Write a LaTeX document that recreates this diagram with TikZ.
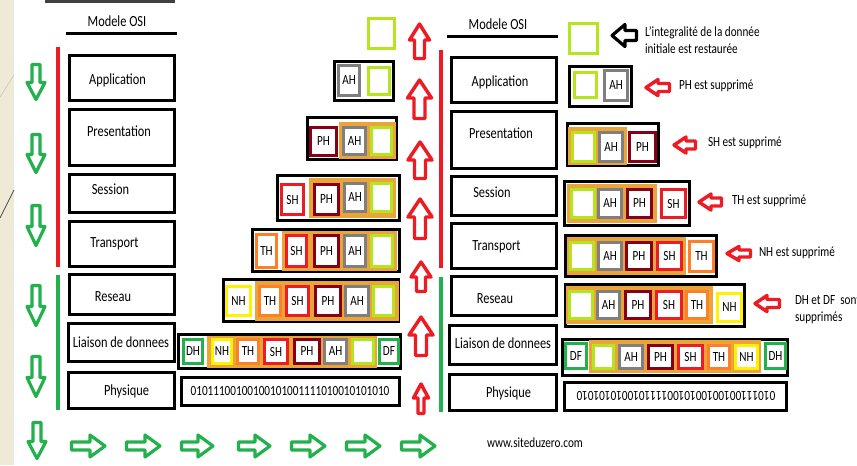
\documentclass[tikz,border=0pt]{standalone}
\usepackage{fontspec}
\setmainfont{Carlito}[FakeStretch=0.8]
\definecolor{cgreen}{HTML}{22B14C}
\definecolor{cred}{HTML}{ED1C24}
\definecolor{clime}{HTML}{B5E61D}
\definecolor{cdred}{HTML}{880015}
\definecolor{cgray}{HTML}{7F7F7F}
\definecolor{corange}{HTML}{FF7F27}
\definecolor{cyellow}{HTML}{FFF200}
\definecolor{cgold}{HTML}{E9A53A}
\definecolor{cbeige}{HTML}{EEEAD6}
\newcommand{\lblfont}{\fontsize{10.5}{12.75}\selectfont}
\newcommand{\layfont}{\fontsize{11.6}{13}\selectfont}
% box: name, x1, y1, x2, y2, style, text
\newcommand{\bx}[7]{\node[#6, minimum width={(#4-#2-3)*0.75pt}, minimum height={(#5-#3-3)*0.75pt}] (#1) at ({(#2+#4)/2},{(#3+#5)/2}) {#7};}
% down arrow: style, cx, ytop, ybot, s, h, L
\newcommand{\arrD}[7]{\draw[#1] ({#2-#5},#3) -- ({#2+#5},#3) -- ({#2+#5},{#4-#7}) -- ({#2+#6},{#4-#7}) -- (#2,#4) -- ({#2-#6},{#4-#7}) -- ({#2-#5},{#4-#7}) -- cycle;}
% up arrow: style, cx, ytop, ybot, s, h, L
\newcommand{\arrU}[7]{\draw[#1] (#2,#3) -- ({#2+#6},{#3+#7}) -- ({#2+#5},{#3+#7}) -- ({#2+#5},#4) -- ({#2-#5},#4) -- ({#2-#5},{#3+#7}) -- ({#2-#6},{#3+#7}) -- cycle;}
% left arrow: style, xtip, xright, cy, s, h, L
\newcommand{\arrL}[7]{\draw[#1] (#2,#4) -- ({#2+#7},{#4-#6}) -- ({#2+#7},{#4-#5}) -- (#3,{#4-#5}) -- (#3,{#4+#5}) -- ({#2+#7},{#4+#5}) -- ({#2+#7},{#4+#6}) -- cycle;}
% right arrow: style, xleft, xtip, cy, s, h, L
\newcommand{\arrR}[7]{\draw[#1] (#3,#4) -- ({#3-#7},{#4-#6}) -- ({#3-#7},{#4-#5}) -- (#2,{#4-#5}) -- (#2,{#4+#5}) -- ({#3-#7},{#4+#5}) -- ({#3-#7},{#4+#6}) -- cycle;}
\tikzset{
  every node/.style={inner sep=0pt, outer sep=0pt},
  frame/.style={draw=black, line width=2.25pt, fill=white},
  layer/.style={draw=black, line width=2.25pt, fill=white},
  hb/.style={draw=#1, line width=2.25pt, fill=white, font=\lblfont},
  wrap/.style={draw=cgold, line width=2.25pt, fill=cgold},
  laytext/.style={font=\layfont},
  note/.style={font=\lblfont, anchor=west, align=left},
  garrow/.style={draw=cgreen, line width=2.4pt, line join=round},
  rarrow/.style={draw=cred, line width=2.6pt, line join=round},
  karrow/.style={draw=black, line width=2.4pt, line join=round},
}
\begin{document}
\begin{tikzpicture}[x=0.75pt, y=-0.75pt]
\clip (0,0) rectangle (857,465);
\fill[white] (0,0) rectangle (857,465);
% left decorative strip
\fill[cbeige] (0,0) rectangle (14,465);
\draw[cbeige!70!gray, line width=0.5pt] (0,97) -- (14,75);
\draw[black!70, line width=0.6pt] (0,218) -- (14,190);
\fill[black!75] (45,0) rectangle (175,3);

% ===== headings =====
\node[laytext] (hL) at (117,21) {Modele OSI};
\coordinate (uL1) at (66,33.5); \coordinate (uL2) at (177,33.5);
\draw[line width=2.25pt] (uL1) -- (uL2);
\node[laytext] (hR) at (498,24) {Modele OSI};
\coordinate (uR1) at (447,36); \coordinate (uR2) at (558,36);
\draw[line width=2.25pt] (uR1) -- (uR2);

% ===== vertical layer lines =====
\coordinate (lr1) at (58,47); \coordinate (lr2) at (58,267);
\coordinate (lg1) at (58,275); \coordinate (lg2) at (58,410);
\draw[cred, line width=2.6pt] (lr1) -- (lr2);
\draw[cgreen, line width=2.6pt] (lg1) -- (lg2);
\coordinate (rr1) at (441,50); \coordinate (rr2) at (441,268);
\coordinate (rg1) at (441,277); \coordinate (rg2) at (441,412);
\draw[cred, line width=2.6pt] (rr1) -- (rr2);
\draw[cgreen, line width=2.6pt] (rg1) -- (rg2);

% ===== left OSI layers =====
\bx{L1}{68}{54}{176}{102}{layer}{}
\bx{L2}{68}{108}{176}{167}{layer}{}
\bx{L3}{68}{173}{176}{214}{layer}{}
\bx{L4}{68}{220}{176}{268}{layer}{}
\bx{L5}{68}{273}{176}{316}{layer}{}
\bx{L6}{67}{322}{176}{363}{layer}{}
\bx{L7}{67}{371}{176}{410}{layer}{}
\node[laytext] (t1) at (117.5,80) {Application};
\node[laytext] (t2) at (119,131) {Presentation};
\node[laytext] (t3) at (110.5,189) {Session};
\node[laytext] (t4) at (114.5,244) {Transport};
\node[laytext] (t5) at (113,297) {Reseau};
\node[laytext] (t6) at (121,342) {Liaison de donnees};
\node[laytext] (t7) at (126.5,391) {Physique};

% ===== right OSI layers =====
\bx{R1}{450}{56}{558}{104}{layer}{}
\bx{R2}{450}{110}{558}{170}{layer}{}
\bx{R3}{450}{175}{558}{217}{layer}{}
\bx{R4}{450}{222}{558}{270}{layer}{}
\bx{R5}{450}{275}{558}{317}{layer}{}
\bx{R6}{448}{324}{558}{366}{layer}{}
\bx{R7}{448}{373}{558}{412}{layer}{}
\node[laytext] (u1) at (500,82) {Application};
\node[laytext] (u2) at (501,133) {Presentation};
\node[laytext] (u3) at (492,192) {Session};
\node[laytext] (u4) at (496.5,247) {Transport};
\node[laytext] (u5) at (495,299) {Reseau};
\node[laytext] (u6) at (503,343) {Liaison de donnees};
\node[laytext] (u7) at (508.5,393) {Physique};

% ===== left stacks (encapsulation) =====
\bx{A0}{367}{17}{396}{50}{hb=clime}{}
% application
\bx{A1f}{333}{60}{395}{102}{frame}{}
\bx{A1a}{337}{64}{361}{97}{hb=cgray}{AH}
\bx{A1d}{367}{66}{391}{96}{hb=clime}{}
% presentation
\bx{A2f}{306}{116}{398}{161}{frame}{}
\bx{A2p}{309}{126}{338}{157}{hb=cdred}{PH}
\bx{A2w}{339}{122}{396}{159}{wrap}{}
\bx{A2a}{342}{126}{367}{156}{hb=cgray}{AH}
\bx{A2d}{370}{126}{393}{156}{hb=clime}{}
% session
\bx{A3f}{276}{174}{401}{222}{frame}{}
\bx{A3s}{280}{183}{305}{216}{hb=cred}{SH}
\bx{A3w}{309}{178}{396}{218}{wrap}{}
\bx{A3p}{313}{183}{340}{216}{hb=cdred}{PH}
\bx{A3a}{343}{182}{367}{213}{hb=cgray}{AH}
\bx{A3d}{370}{182}{393}{213}{hb=clime}{}
% transport
\bx{A4f}{251}{228}{401}{273}{frame}{}
\bx{A4t}{255}{233}{278}{269}{hb=corange}{TH}
\bx{A4w}{282}{231}{397}{271}{wrap}{}
\bx{A4s}{285}{234}{308}{268}{hb=cred}{SH}
\bx{A4p}{313}{234}{340}{268}{hb=cdred}{PH}
\bx{A4a}{343}{234}{367}{268}{hb=cgray}{AH}
\bx{A4d}{370}{234}{394}{268}{hb=clime}{}
% reseau
\bx{A5f}{222}{278}{400}{323}{frame}{}
\bx{A5n}{225}{285}{252}{317}{hb=cyellow}{NH}
\bx{A5w}{255}{281}{399}{321}{wrap}{}
\bx{A5t}{258}{285}{282}{317}{hb=corange}{TH}
\bx{A5s}{285}{285}{310}{317}{hb=cred}{SH}
\bx{A5p}{314}{285}{342}{317}{hb=cdred}{PH}
\bx{A5a}{344}{285}{370}{317}{hb=cgray}{AH}
\bx{A5d}{372}{285}{395}{317}{hb=clime}{}
% liaison
\bx{A6f}{177}{333}{402}{370}{frame}{}
\bx{A6h}{182}{338}{204}{365}{hb=cgreen}{DH}
\bx{A6w}{207}{336}{377}{368}{wrap}{}
\bx{A6n}{211}{338}{233}{365}{hb=cyellow}{NH}
\bx{A6t}{236}{338}{260}{365}{hb=corange}{TH}
\bx{A6s}{263}{338}{289}{365}{hb=cred}{SH}
\bx{A6p}{293}{338}{321}{365}{hb=cdred}{PH}
\bx{A6a}{323}{338}{348}{365}{hb=cgray}{AH}
\bx{A6d}{351}{338}{375}{365}{hb=clime}{}
\bx{A6e}{378}{338}{400}{365}{hb=cgreen}{DF}
% physique
\bx{A7f}{180}{376}{401}{407}{frame}{}
\node[font=\lblfont] (A7t) at (290,391) {01011100100100101001111010010101010};

% ===== right stacks (decapsulation) =====
\bx{B0}{568}{22}{599}{55}{hb=clime}{}
% application
\bx{B1f}{568}{65}{633}{108}{frame}{}
\bx{B1d}{573}{71}{598}{99}{hb=clime}{}
\bx{B1a}{603}{69}{629}{102}{hb=cgray}{AH}
% presentation
\bx{B2f}{566}{122}{660}{167}{frame}{}
\bx{B2w}{568}{127}{627}{165}{wrap}{}
\bx{B2d}{571}{131}{596}{163}{hb=clime}{}
\bx{B2a}{598}{131}{624}{163}{hb=cgray}{AH}
\bx{B2p}{628}{131}{657}{163}{hb=cdred}{PH}
% session
\bx{B3f}{563}{180}{691}{227}{frame}{}
\bx{B3w}{567}{184}{657}{223}{wrap}{}
\bx{B3d}{570}{188}{596}{219}{hb=clime}{}
\bx{B3a}{597}{188}{623}{219}{hb=cgray}{AH}
\bx{B3p}{626}{188}{653}{219}{hb=cdred}{PH}
\bx{B3s}{660}{188}{687}{219}{hb=cred}{SH}
% transport
\bx{B4f}{564}{234}{718}{278}{frame}{}
\bx{B4w}{567}{237}{686}{275}{wrap}{}
\bx{B4d}{569}{241}{595}{271}{hb=clime}{}
\bx{B4a}{597}{241}{623}{271}{hb=cgray}{AH}
\bx{B4p}{625}{241}{653}{271}{hb=cdred}{PH}
\bx{B4s}{656}{241}{683}{271}{hb=cred}{SH}
\bx{B4t}{688}{240}{715}{273}{hb=corange}{TH}
% reseau
\bx{B5f}{564}{283}{746}{328}{frame}{}
\bx{B5w}{566}{286}{713}{324}{wrap}{}
\bx{B5d}{568}{290}{594}{320}{hb=clime}{}
\bx{B5a}{596}{290}{621}{320}{hb=cgray}{AH}
\bx{B5p}{624}{290}{652}{320}{hb=cdred}{PH}
\bx{B5s}{655}{290}{683}{320}{hb=cred}{SH}
\bx{B5t}{685}{290}{709}{320}{hb=corange}{TH}
\bx{B5n}{716}{292}{743}{323}{hb=cyellow}{NH}
% liaison
\bx{B6f}{561}{338}{789}{377}{frame}{}
\bx{B6e}{564}{342}{588}{370}{hb=cgreen}{DF}
\bx{B6w}{589}{340}{761}{373}{wrap}{}
\bx{B6d}{592}{344}{615}{370}{hb=clime}{}
\bx{B6a}{618}{344}{644}{370}{hb=cgray}{AH}
\bx{B6p}{647}{344}{674}{370}{hb=cdred}{PH}
\bx{B6s}{677}{344}{704}{370}{hb=cred}{SH}
\bx{B6t}{707}{344}{731}{370}{hb=corange}{TH}
\bx{B6n}{734}{344}{759}{370}{hb=cyellow}{NH}
\bx{B6h}{764}{342}{787}{370}{hb=cgreen}{DH}
% physique
\bx{B7f}{563}{381}{788}{412}{frame}{}
\node[font=\lblfont, rotate=180] (B7t) at (676,396) {01011100100100101001111010010101010};

% ===== annotations =====
\node[note] (n0) at (645,40.5) {L'integralité de la donnée\\initiale est restaurée};
\node[note] (n1) at (679,86) {PH est supprimé};
\node[note] (n2) at (708,143) {SH est supprimé};
\node[note] (n3) at (732,201) {TH est supprimé};
\node[note] (n4) at (759,253) {NH est supprimé};
\node[note] (n5) at (795,309.5) {DH et DF\ \ sont\\supprimés};
\node[font=\lblfont] (web) at (535,443) {www.siteduzero.com};

% ===== green down arrows (left) =====
\arrD{garrow}{36}{64.5}{99.5}{4}{9}{17}
\arrD{garrow}{36}{134.5}{172.5}{4}{9}{18}
\arrD{garrow}{36}{205.5}{245.5}{4}{9}{19}
\arrD{garrow}{36}{285.5}{325.5}{4}{9}{19}
\arrD{garrow}{36}{356.5}{396.5}{4}{9}{19}
\arrD{garrow}{37}{422.5}{458.5}{4}{9}{17}

% ===== green right arrows (bottom) =====
\arrR{garrow}{71.5}{105}{446}{4}{11}{15}
\arrR{garrow}{126.5}{160}{446}{4}{11}{15}
\arrR{garrow}{181.5}{213}{446}{4}{11}{15}
\arrR{garrow}{238.5}{270}{446}{4}{11}{15}
\arrR{garrow}{291.5}{325}{446}{4}{11}{15}
\arrR{garrow}{346.5}{380}{446}{4}{11}{15}
\arrR{garrow}{401.5}{435}{446}{4}{11}{15}

% ===== red up arrows (middle) =====
\arrU{rarrow}{419.5}{24}{58.5}{5}{10}{16}
\arrU{rarrow}{419.5}{80}{118.5}{5.5}{12}{18}
\arrU{rarrow}{420}{142}{178.5}{5.5}{12}{18}
\arrU{rarrow}{420}{199}{238.5}{5.5}{12}{18}
\arrU{rarrow}{421}{262}{291.5}{4.5}{10}{15}
\arrU{rarrow}{421}{317}{355.5}{5.5}{12}{18}
\arrU{rarrow}{421}{384}{413.5}{3}{7.5}{14}

% ===== left-pointing arrows (right side) =====
\arrL{karrow}{612}{636.5}{35.5}{5}{11}{13}
\arrL{rarrow}{646}{669.5}{87.5}{4}{8}{12}
\arrL{rarrow}{674}{695.5}{145}{4}{8}{12}
\arrL{rarrow}{699}{721.5}{202}{4}{8}{12}
\arrL{rarrow}{727}{750.5}{253.5}{3.5}{7}{12}
\arrL{rarrow}{755}{779.5}{303.5}{4}{8}{12}
\end{tikzpicture}
\end{document}
